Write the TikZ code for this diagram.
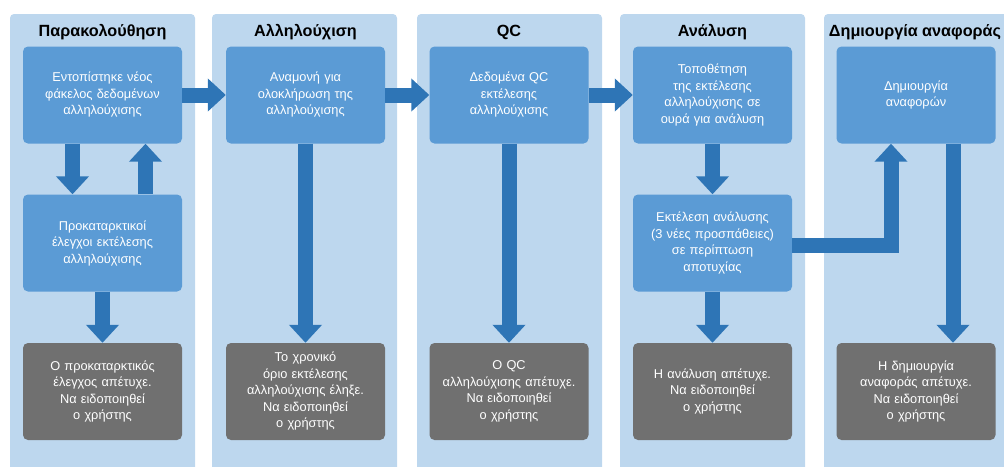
\documentclass[tikz,border=0pt]{standalone}
\usepackage{fontspec}
\setmainfont{Liberation Sans}
\usetikzlibrary{arrows.meta}

\definecolor{lanefill}{RGB}{189,215,238}
\definecolor{stepblue}{RGB}{91,155,213}
\definecolor{flowblue}{RGB}{46,117,182}
\definecolor{failgray}{RGB}{112,112,112}

\tikzset{
  lanetitle/.style={font=\bfseries\fontsize{16.2}{19}\selectfont},
  stepbox/.style={fill=stepblue, rounded corners=5pt, minimum width=159pt,
    minimum height=97pt, text width=152pt, align=center, text=white,
    inner sep=0pt, font=\fontsize{12.8}{16.5}\selectfont},
  failbox/.style={stepbox, fill=failgray},
  flow/.style={draw=flowblue, line width=15pt, line join=miter,
    -{Triangle[width=32pt,length=18pt]}},
}

\begin{document}
\begin{tikzpicture}[x=1pt,y=-1pt]
      \useasboundingbox (0,0) rectangle (1004,466);
      \clip (0,0) rectangle (1004,466);
      % lanes
      \foreach \lx in {10,212,417,620,824}
        \fill[lanefill, rounded corners=4pt] (\lx,14) rectangle ++(185,470);

      \node[lanetitle] (tmon) at (102.5,32.5) {Παρακολούθηση};
      \node[lanetitle] (tseq) at (305.5,32.5) {Αλληλούχιση};
      \node[lanetitle] (tqc) at (509,32.5) {QC};
      \node[lanetitle] (tana) at (712.5,32.5) {Ανάλυση};
      \node[lanetitle] (trep) at (915,32.5) {Δημιουργία αναφοράς};

      \node[stepbox] (detect) at (102.5,95) {Εντοπίστηκε νέος\\φάκελος δεδομένων\\αλληλούχισης};
      \node[stepbox] (precheck) at (102.5,243) {Προκαταρκτικοί\\έλεγχοι εκτέλεσης\\αλληλούχισης};
      \node[failbox] (prefail) at (102.5,391.5) {Ο προκαταρκτικός\\έλεγχος απέτυχε.\\Να ειδοποιηθεί\\ο χρήστης};

      \node[stepbox] (wait) at (305.5,95) {Αναμονή για\\ολοκλήρωση της\\αλληλούχισης};
      \node[failbox] (timeout) at (305.5,391.5) {Το χρονικό\\όριο εκτέλεσης\\αλληλούχισης έληξε.\\Να ειδοποιηθεί\\ο χρήστης};

      \node[stepbox] (qcdata) at (509,95) {Δεδομένα QC\\εκτέλεσης\\αλληλούχισης};
      \node[failbox] (qcfail) at (509,391.5) {Ο QC\\αλληλούχισης απέτυχε.\\Να ειδοποιηθεί\\ο χρήστης};

      \node[stepbox] (queue) at (712.5,95) {Τοποθέτηση\\της εκτέλεσης\\αλληλούχισης σε\\ουρά για ανάλυση};
      \node[stepbox] (runana) at (712.5,243) {Εκτέλεση ανάλυσης\\(3 νέες προσπάθειες)\\σε περίπτωση\\αποτυχίας};
      \node[failbox] (anafail) at (712.5,391.5) {Η ανάλυση απέτυχε.\\Να ειδοποιηθεί\\ο χρήστης};

      \node[stepbox] (report) at (916,95) {Δημιουργία\\αναφορών};
      \node[failbox] (repfail) at (916,391.5) {Η δημιουργία\\αναφοράς απέτυχε.\\Να ειδοποιηθεί\\ο χρήστης};

      % flow between lanes
      \draw[flow] (detect) -- (wait);
      \draw[flow] (wait) -- (qcdata);
      \draw[flow] (qcdata) -- (queue);
      \draw[flow] ([yshift=-2.5pt]runana.east) -| ([xshift=-25pt]report.south);

      % flow inside lanes
      \draw[flow] ([xshift=-30pt]detect.south) -- ([xshift=-30pt]precheck.north);
      \draw[flow] ([xshift=43pt]precheck.north) -- ([xshift=43pt]detect.south);
      \draw[flow] (precheck) -- (prefail);
      \draw[flow] (wait) -- (timeout);
      \draw[flow] (qcdata) -- (qcfail);
      \draw[flow] (queue) -- (runana);
      \draw[flow] (runana) -- (anafail);
      \draw[flow] ([xshift=37pt]report.south) -- ([xshift=37pt]repfail.north);
    \end{tikzpicture}
\end{document}
